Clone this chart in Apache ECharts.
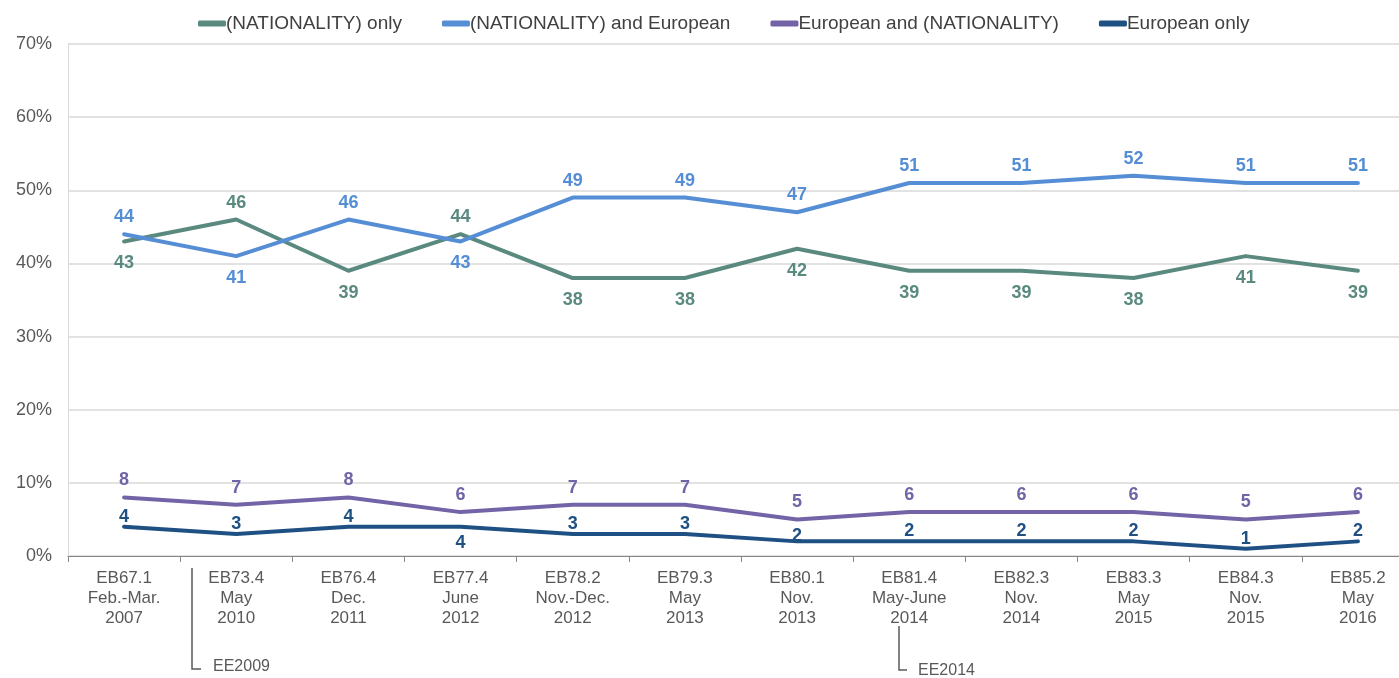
<!DOCTYPE html>
<html><head><meta charset="utf-8">
<script src="https://cdn.jsdelivr.net/npm/echarts@6/dist/echarts.min.js"></script>
<style>html,body{margin:0;padding:0;background:#fff;overflow:hidden}#c{width:1420px;height:678px}</style>
</head><body><div id="c"></div>
<script>
var categories = ['EB67.1\nFeb.-Mar.\n2007','EB73.4\nMay\n2010','EB76.4\nDec.\n2011','EB77.4\nJune\n2012','EB78.2\nNov.-Dec.\n2012','EB79.3\nMay\n2013','EB80.1\nNov.\n2013','EB81.4\nMay-June\n2014','EB82.3\nNov.\n2014','EB83.3\nMay\n2015','EB84.3\nNov.\n2015','EB85.2\nMay\n2016'];
var seriesNames = ['(NATIONALITY) only','(NATIONALITY) and European','European and (NATIONALITY)','European only'];
var nationalOnly = [43,46,39,44,38,38,42,39,39,38,41,39];
var nationalAndEuropean = [44,41,46,43,49,49,47,51,51,52,51,51];
var europeanAndNational = [8,7,8,6,7,7,5,6,6,6,5,6];
var europeanOnly = [4,3,4,4,3,3,2,2,2,2,1,2];
var yTicks = [0,10,20,30,40,50,60,70];

// label placement (style, not data): t = above, b = below
var posNationalOnly = ['b','t','b','t','b','b','b','b','b','b','b','b'];
var posNatEur = ['t','b','t','b','t','t','t','t','t','t','t','t'];
var posEurNat = ['t','t','t','t','t','t','t','t','t','t','t','t'];
var posEurOnly = ['t','t','t','b','t','t','t','t','t','t','t','t'];

var colors = ['#5a8a7f','#558ed5','#7264a6','#1f5083'];
var FONT = 'Liberation Sans, Arial, sans-serif';

function build(vals, pos, color, dTop, dBot, special) {
  return vals.map(function (v, i) {
    var top = pos[i] === 't';
    var d = top ? dTop : dBot;
    if (special && special[i] !== undefined) d = special[i];
    return { value: v, label: { show: true, position: top ? 'top' : 'bottom', distance: d,
      color: color, fontWeight: 'bold', fontSize: 18, fontFamily: FONT } };
  });
}

var chart = echarts.init(document.getElementById('c'), null, {renderer: 'canvas'});
var lineSeries = [
  [nationalOnly, posNationalOnly, 8, 13],
  [nationalAndEuropean, posNatEur, 8, 13],
  [europeanAndNational, posEurNat, 8, 13],
  [europeanOnly, posEurOnly, 1, 7]
].map(function (s, k) {
  return {
    name: seriesNames[k], type: 'line', symbol: 'circle', symbolSize: 0, showSymbol: true, z: 3,
    lineStyle: { width: 4, color: colors[k], cap: 'round', join: 'round' },
    itemStyle: { color: colors[k] },
    emphasis: { disabled: true },
    data: build(s[0], s[1], colors[k], s[2], s[3], k === 3 ? {6: -4} : null)
  };
});

chart.setOption({
  animation: false,
  color: colors,
  textStyle: { fontFamily: FONT },
  legend: {
    top: 9, left: 193, itemWidth: 28, itemHeight: 6, itemGap: 40,
    icon: 'roundRect',
    textStyle: { fontSize: 19, color: '#404040', padding: [0,0,0,-5] },
    data: seriesNames
  },
  grid: { left: 68, top: 44, width: 1346, height: 512, containLabel: false },
  xAxis: {
    type: 'category', data: categories, boundaryGap: true,
    axisLine: { lineStyle: { color: '#868686', width: 1 } },
    axisTick: { show: true, length: 6, inside: false, lineStyle: { color: '#868686' } },
    axisLabel: { color: '#595959', fontSize: 17, lineHeight: 20, margin: 12, interval: 0 }
  },
  yAxis: {
    type: 'value', min: 0, max: 70, interval: 10,
    axisLine: { show: true, lineStyle: { color: '#d9d9d9' } },
    axisTick: { show: false },
    splitLine: { lineStyle: { color: '#d9d9d9', width: 1.5 } },
    axisLabel: { color: '#595959', fontSize: 18, margin: 16, formatter: function (v) { return v + '%'; } }
  },
  series: lineSeries,
  graphic: [
    { type: 'polyline', shape: { points: [[192,568],[192,669],[201,669]] }, style: { stroke: '#595959', lineWidth: 1.5, fill: null } },
    { type: 'text', left: 213, top: 659, style: { text: 'EE2009', fill: '#595959', font: '16px Liberation Sans, Arial, sans-serif' } },
    { type: 'polyline', shape: { points: [[899,626],[899,670],[907,670]] }, style: { stroke: '#595959', lineWidth: 1.5, fill: null } },
    { type: 'text', left: 918, top: 663, style: { text: 'EE2014', fill: '#595959', font: '16px Liberation Sans, Arial, sans-serif' } }
  ]
});
</script></body></html>
